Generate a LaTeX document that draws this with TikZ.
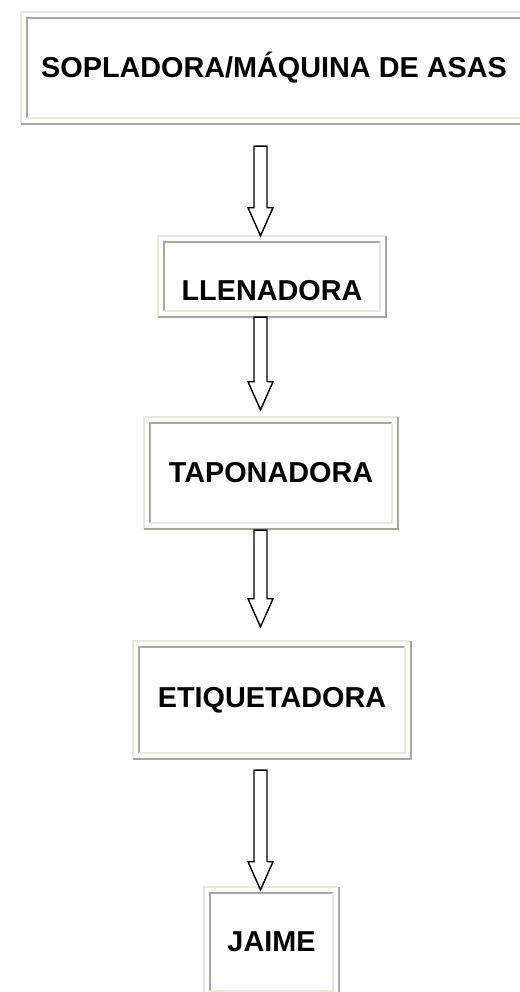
\documentclass[tikz,border=0pt]{standalone}
\usepackage{fontspec}
\setmainfont{Liberation Sans}
\usetikzlibrary{calc}
\definecolor{bevellite}{RGB}{236,233,216}
\definecolor{beveldark}{RGB}{172,168,153}
\newcommand\bevelgap{6.5}
\newcommand\bevel[1]{
  \draw[lite] (#1.south west) -- (#1.north west) -- (#1.north east);
  \draw[dark] (#1.south west) -- (#1.south east) -- (#1.north east);
  \draw[dark] ([shift={(\bevelgap,\bevelgap)}]#1.south west) |- ([shift={(-\bevelgap,-\bevelgap)}]#1.north east);
  \draw[lite] ([shift={(\bevelgap,\bevelgap)}]#1.south west) -| ([shift={(-\bevelgap,-\bevelgap)}]#1.north east);
}
\newcommand\hollowarrow[2]{
  \draw[blockline] ($(#1)+(-6.5,0)$) -- ($(#2)+(-6.5,28)$) -- ($(#2)+(-12.5,28)$) -- (#2)
    -- ($(#2)+(12.5,28)$) -- ($(#2)+(6.5,28)$) -- ($(#1)+(6.5,0)$) -- cycle;
}

\begin{document}
\begin{tikzpicture}[x=1pt, y=1pt,
		stagebox/.style={rectangle, inner sep=0pt, font=\bfseries\fontsize{28.8}{34}\selectfont},
		lite/.style={bevellite, line width=2pt},
		dark/.style={beveldark, line width=2pt},
		blockline/.style={black, line width=1.4pt, fill=white, line join=miter}]
				\useasboundingbox[fill=white] (0,0) rectangle (519,992);
				\node[stagebox, minimum width=506pt, minimum height=112pt] (sopladora) at (274,924) {SOPLADORA/MÁQUINA DE ASAS};
				\node[stagebox, minimum width=228pt, minimum height=81pt, text height=49pt, text depth=0pt] (llenadora) at (272,715.5) {LLENADORA};
				\node[stagebox, minimum width=254pt, minimum height=112pt] (taponadora) at (271,519) {TAPONADORA};
				\node[stagebox, minimum width=278pt, minimum height=118pt] (etiquetadora) at (272,292) {ETIQUETADORA};
				\node[stagebox, minimum width=135pt, minimum height=110pt] (jaime) at (271.5,50) {JAIME};
				\foreach \stage in {sopladora, llenadora, taponadora, etiquetadora, jaime}
					\bevel{\stage};
				% arrow axis
				\coordinate (spine) at (260.5,0);
				\path (spine |- sopladora.south) ++(0,-22) coordinate (a1top);
				\path (spine |- llenadora.north) coordinate (a1tip);
				\path (spine |- llenadora.south) coordinate (a2top);
				\path (spine |- taponadora.north) ++(0,7) coordinate (a2tip);
				\path (spine |- taponadora.south) ++(0,-1) coordinate (a3top);
				\path (spine |- etiquetadora.north) ++(0,14) coordinate (a3tip);
				\path (spine |- etiquetadora.south) ++(0,-11) coordinate (a4top);
				\path (spine |- jaime.north) ++(0,-3) coordinate (a4tip);
				\hollowarrow{a1top}{a1tip}
				\hollowarrow{a2top}{a2tip}
				\hollowarrow{a3top}{a3tip}
				\hollowarrow{a4top}{a4tip}
\end{tikzpicture}
\end{document}
